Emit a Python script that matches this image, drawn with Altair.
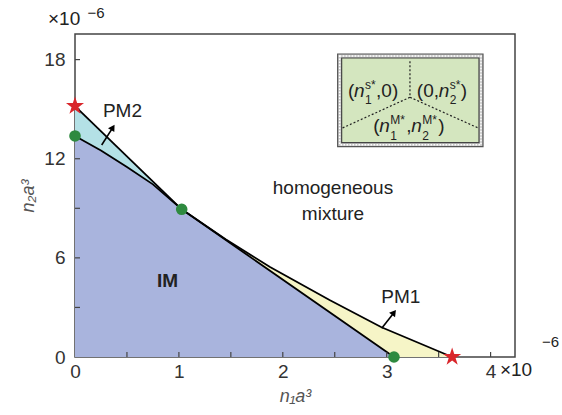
import altair as alt
import pandas as pd

FONT = "Liberation Sans"

# ---------------- data (units of 1e-6) ----------------
x_label_values = [0, 1, 2, 3, 4]
x_tick_values = [0.5, 1, 1.5, 2, 2.5, 3, 3.5, 4]
y_label_values = [0, 6, 12, 18]
y_tick_values = [3, 6, 9, 12, 15, 18]

# lower boundary of the IM region
im_x = [0, 0.25, 0.5, 0.75, 1.027, 3.07]
im_y = [13.38, 12.5, 11.5, 10.45, 8.94, 0]
# upper boundary of PM2
pm2_x = [0, 1.027]
pm2_y = [15.19, 8.94]
# upper boundary of PM1
pm1_x = [1.027, 1.45, 1.877, 2.45, 2.95, 3.63]
pm1_y = [8.94, 7.12, 5.45, 3.45, 1.8, 0]

dots_x = [0, 1.027, 3.07]
dots_y = [13.38, 8.94, 0]
stars_x = [0, 3.63]
stars_y = [15.19, 0]

# arrows: (x, y) -> (x2, y2)
arrow_x = [0.257, 2.952]
arrow_y = [12.83, 1.74]
arrow_x2 = [0.359, 3.064]
arrow_y2 = [13.84, 2.64]
arrow_angle = [32, 37]

# inset box (data coords)
box_x = [2.528]
box_x2 = [3.927]
box_y = [18.34]
box_y2 = [12.73]

XDOM = [0, 4.235]
YDOM = [0, 19.55]

STAR = ("M0,-1L0.2245,-0.309L0.951,-0.309L0.363,0.118L0.588,0.809L0,0.382"
        "L-0.588,0.809L-0.363,0.118L-0.951,-0.309L-0.2245,-0.309Z")

xs = alt.Scale(domain=XDOM, nice=False, zero=False)
ys = alt.Scale(domain=YDOM, nice=False, zero=False)

xax = alt.Axis(values=x_label_values, title="n₁a³", grid=False, ticks=False, domain=False,
               labelFont=FONT, labelFontSize=19, labelColor="#333", labelPadding=5,
               titleFont=FONT, titleFontSize=18, titleFontStyle="italic", titleFontWeight="normal",
               titleColor="#555", titlePadding=6, labelFlush=False, format="d", orient="bottom")
yax = alt.Axis(values=y_label_values, title="n₂a³", grid=False, ticks=False, domain=False,
               labelFont=FONT, labelFontSize=19, labelColor="#333", labelPadding=10,
               titleFont=FONT, titleFontSize=18, titleFontStyle="italic", titleFontWeight="normal",
               titleColor="#555", titlePadding=6, labelFlush=False, format="d", orient="left")


def X(f="x"):
    return alt.X(f + ":Q", scale=xs, axis=xax)


def Y(f="y"):
    return alt.Y(f + ":Q", scale=ys, axis=yax)


def area(xv, yv, color):
    df = pd.DataFrame({"x": xv, "y": yv})
    return alt.Chart(df).mark_area(color=color, opacity=1).encode(
        x=X(), y=alt.Y("y:Q", scale=ys, axis=yax, stack=None))


def line(xv, yv):
    df = pd.DataFrame({"x": xv, "y": yv})
    return alt.Chart(df).mark_line(color="black", strokeWidth=1.8).encode(x=X(), y=Y())


def txt(x, y, text, size=19, dx=0, dy=0, style="normal", weight="normal",
        align="center", baseline="middle", color="#222"):
    df = pd.DataFrame({"x": [x], "y": [y], "t": [text]})
    return alt.Chart(df).mark_text(
        font=FONT, fontSize=size, fontStyle=style, fontWeight=weight, align=align,
        baseline=baseline, color=color, dx=dx, dy=dy).encode(x=X(), y=Y(), text="t:N")


layers = []
layers.append(area(pm2_x, pm2_y, "#b4e1e6"))
layers.append(area(pm1_x, pm1_y, "#f6f5c7"))
layers.append(area(im_x, im_y, "#a9b4dd"))
layers.append(line(pm2_x, pm2_y))
layers.append(line(im_x, im_y))
layers.append(line(pm1_x, pm1_y))

# inward ticks
xt = pd.DataFrame({"x": x_tick_values, "y": [0] * len(x_tick_values)})
layers.append(alt.Chart(xt).mark_rule(color="#444", strokeWidth=1.2, y2Offset=-5).encode(
    x=X(), y=Y(), y2="y:Q"))
yt = pd.DataFrame({"y": y_tick_values, "x": [0] * len(y_tick_values)})
layers.append(alt.Chart(yt).mark_rule(color="#444", strokeWidth=1.2, x2Offset=5).encode(
    y=Y(), x=X(), x2="x:Q"))

# arrows
adf = pd.DataFrame({"x": arrow_x, "y": arrow_y, "x2": arrow_x2, "y2": arrow_y2, "a": arrow_angle})
layers.append(alt.Chart(adf).mark_rule(color="black", strokeWidth=1.6).encode(
    x=X(), y=Y(), x2="x2:Q", y2="y2:Q"))
layers.append(alt.Chart(adf).mark_point(shape="triangle", filled=True, color="black",
                                         opacity=1, size=55).encode(
    x=X("x2"), y=Y("y2"), angle=alt.Angle("a:Q", scale=None)))

# markers
layers.append(alt.Chart(pd.DataFrame({"x": dots_x, "y": dots_y})).mark_circle(
    color="#2e8a3f", opacity=1, size=135).encode(x=X(), y=Y()))
layers.append(alt.Chart(pd.DataFrame({"x": stars_x, "y": stars_y})).mark_point(
    shape=STAR, filled=True, color="#d9262b", opacity=1, size=360).encode(x=X(), y=Y()))

# region labels
layers.append(txt(0.457, 14.89, "PM2", size=19))
layers.append(txt(3.136, 3.65, "PM1", size=19))
layers.append(txt(0.89, 4.6, "IM", size=19, weight="bold"))
layers.append(txt(2.483, 10.23, "homogeneous", size=19))
layers.append(txt(2.483, 8.66, "mixture", size=19))

# exponent labels
layers.append(txt(-0.26, 19.55, "×10", size=19, align="left", dy=-15))
layers.append(txt(0.12, 19.55, "−6", size=15, align="left", dy=-21))
layers.append(txt(4.09, 0, "×10", size=19, align="left", dy=13))
layers.append(txt(4.495, 0, "−6", size=15, align="left", dy=-15))

# inset box
bdf = pd.DataFrame({"x": box_x, "x2": box_x2, "y": box_y, "y2": box_y2})
layers.append(alt.Chart(bdf).mark_rect(fill="#c9c9c9", stroke="#555", strokeWidth=1.2).encode(
    x=X(), x2="x2:Q", y=Y(), y2="y2:Q"))
layers.append(alt.Chart(bdf).mark_rect(fill="#c9c9c9", stroke="white", strokeWidth=1.5,
                                       strokeDash=[1.5, 1.5], xOffset=2, x2Offset=-2,
                                       yOffset=2, y2Offset=-2).encode(
    x=X(), x2="x2:Q", y=Y(), y2="y2:Q"))
layers.append(alt.Chart(bdf).mark_rect(fill="#d4e6bf", stroke="#444", strokeWidth=1.2,
                                       xOffset=4, x2Offset=-4, yOffset=4, y2Offset=-4).encode(
    x=X(), x2="x2:Q", y=Y(), y2="y2:Q"))

# dotted dividers in the inset
ddf = pd.DataFrame({"x": [3.224, 3.224, 3.224], "y": [17.9, 15.72, 15.72],
                    "x2": [3.224, 2.57, 3.885], "y2": [15.72, 13.85, 13.85]})
layers.append(alt.Chart(ddf).mark_rule(color="#222", strokeWidth=1.2, strokeDash=[2, 2]).encode(
    x=X(), y=Y(), x2="x2:Q", y2="y2:Q"))

# inset formulae (pieces)
def formula(x, y, pieces):
    out = []
    for text, dx, dy, size, style in pieces:
        out.append(txt(x, y, text, size=size, dx=dx, dy=dy, style=style,
                       align="left", baseline="alphabetic", color="#222"))
    return out

layers += formula(2.628, 15.76, [("(", 0, 0, 19, "normal"), ("n", 6, 0, 19, "italic"),
                                 ("s*", 17, -8, 12, "normal"), ("1", 17, 7, 12, "normal"),
                                 (",0)", 28, 0, 19, "normal")])
layers += formula(3.29, 15.76, [("(0,", 0, 0, 19, "normal"), ("n", 22, 0, 19, "italic"),
                                ("s*", 33, -8, 12, "normal"), ("2", 33, 7, 12, "normal"),
                                (")", 44, 0, 19, "normal")])
layers += formula(2.87, 13.62, [("(", 0, 0, 19, "normal"), ("n", 6, 0, 19, "italic"),
                                ("M*", 17, -8, 12, "normal"), ("1", 17, 8, 12, "normal"),
                                (",", 33, 0, 19, "normal"), ("n", 38, 0, 19, "italic"),
                                ("M*", 49, -8, 12, "normal"), ("2", 49, 8, 12, "normal"),
                                (")", 65, 0, 19, "normal")])

chart = alt.layer(*layers).properties(
    width=440, height=323,
    autosize=alt.AutoSizeParams(type="none"),
    padding={"left": 75, "top": 34, "right": 47, "bottom": 58},
    background="white",
).configure_view(stroke="#444", strokeWidth=1.5)

chart.save("out.html", embed_options={"renderer": "svg", "actions": False})
